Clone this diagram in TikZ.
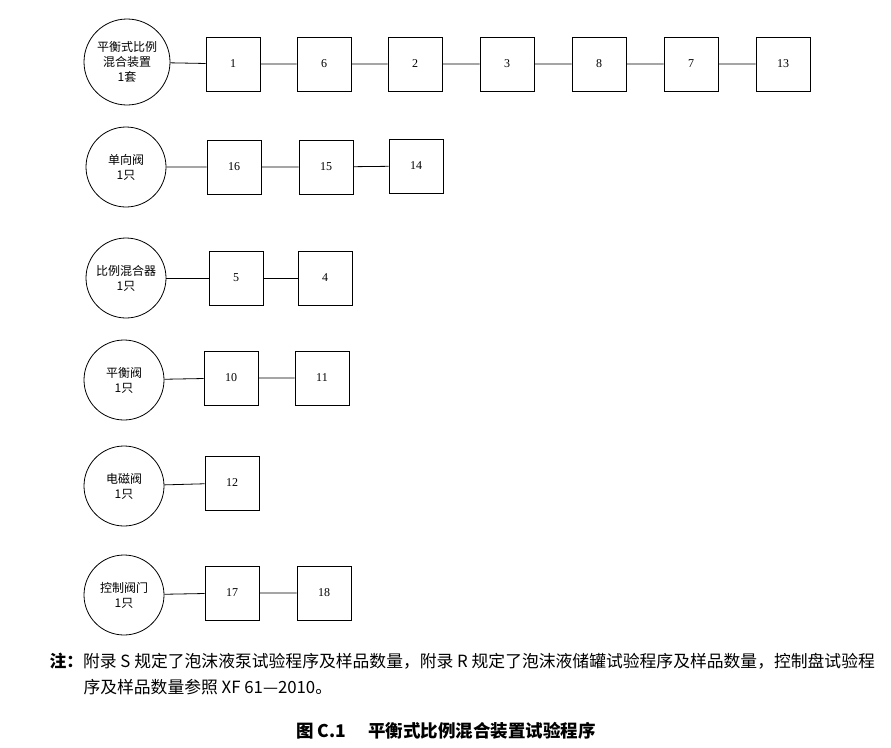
\documentclass[tikz,border=0pt]{standalone}
\usepackage{fontspec}
\setmainfont{Liberation Serif}
\newfontfamily\cjk{Noto Sans CJK SC}
\begin{document}
\begin{tikzpicture}[x=1pt,y=-1pt,
  unit/.style={circle, draw, thick, minimum size=80pt, inner sep=0pt, align=center, font=\cjk\fontsize{12}{15}\selectfont},
  part/.style={rectangle, draw, thick, minimum size=54pt, inner sep=0pt, font=\fontsize{12}{14}\selectfont},
  link/.style={thick}]

\useasboundingbox (0,0) rectangle (891,747);

% row 1
\node[unit, minimum size=86pt] (u1) at (127,62) {平衡式比例\\混合装置\\1套};
\node[part] (p1) at (233,64) {1};
\node[part] (p6) at (324,64) {6};
\node[part] (p2) at (415,64) {2};
\node[part] (p3) at (507,64) {3};
\node[part] (p8) at (599,64) {8};
\node[part] (p7) at (691,64) {7};
\node[part] (p13) at (783,64) {13};
\draw[link] (u1) -- (p1) -- (p6) -- (p2) -- (p3) -- (p8) -- (p7) -- (p13);

% row 2
\node[unit] (u2) at (126,167) {单向阀\\1只};
\node[part] (p16) at (234,167) {16};
\node[part] (p15) at (326,167) {15};
\node[part] (p14) at (416,166) {14};
\draw[link] (u2) -- (p16) -- (p15) -- (p14);

% row 3
\node[unit] (u3) at (126,278) {比例混合器\\1只};
\node[part] (p5) at (236,278) {5};
\node[part] (p4) at (325,278) {4};
\draw[link] (u3) -- (p5) -- (p4);

% row 4
\node[unit] (u4) at (124,380) {平衡阀\\1只};
\node[part] (p10) at (231,378) {10};
\node[part] (p11) at (322,378) {11};
\draw[link] (u4) -- (p10) -- (p11);

% row 5
\node[unit] (u5) at (124,486) {电磁阀\\1只};
\node[part] (p12) at (232,483) {12};
\draw[link] (u5) -- (p12);

% row 6
\node[unit] (u6) at (124,595) {控制阀门\\1只};
\node[part] (p17) at (232,593) {17};
\node[part] (p18) at (324,593) {18};
\draw[link] (u6) -- (p17) -- (p18);

% note and caption
\node[anchor=west, font=\cjk\fontsize{16.8}{19}\selectfont] (note1) at (46,661) {\textbf{注：}附录 S 规定了泡沫液泵试验程序及样品数量，附录 R 规定了泡沫液储罐试验程序及样品数量，控制盘试验程};
\node[anchor=west, font=\cjk\fontsize{16.8}{19}\selectfont] (note2) at (80,687) {序及样品数量参照 XF 61—2010。};
\node[font=\cjk\bfseries\fontsize{17.5}{20}\selectfont] (cap) at (446,731) {图 C.1\hspace{22pt}平衡式比例混合装置试验程序};

\end{tikzpicture}
\end{document}
